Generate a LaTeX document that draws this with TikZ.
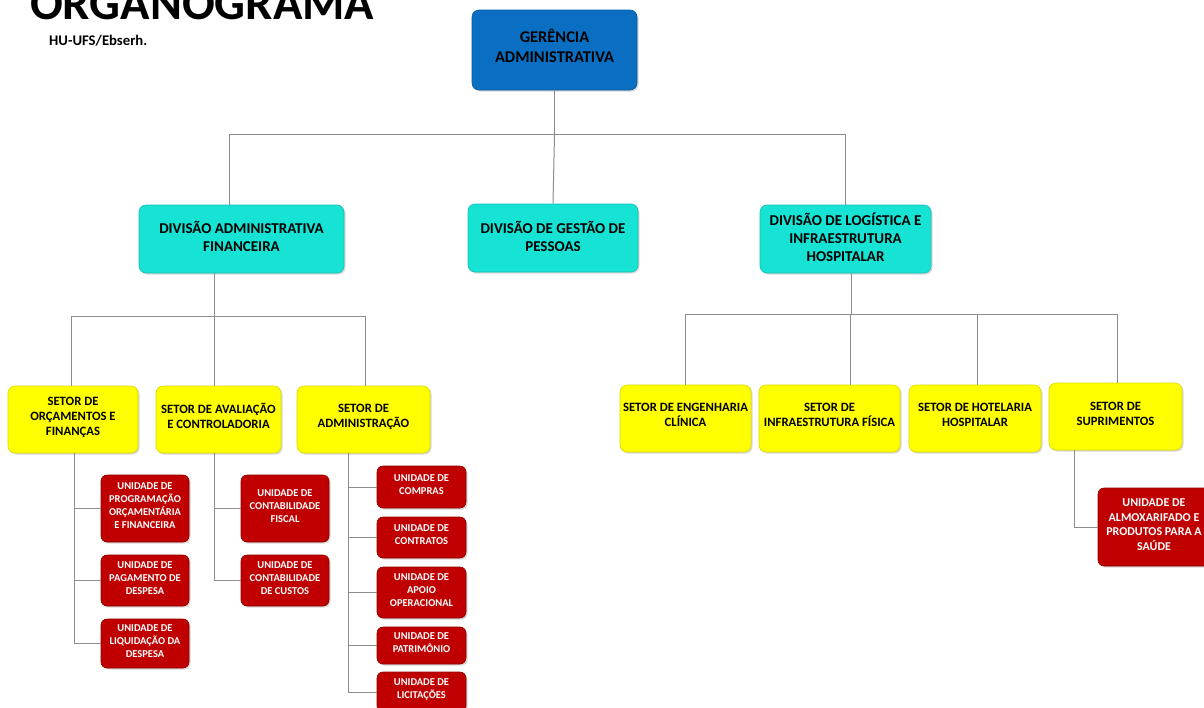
\documentclass[tikz,border=0pt]{standalone}
\usepackage{fontspec}
\setmainfont{Carlito}
\usetikzlibrary{shadows}
\definecolor{gblue}{HTML}{0A6FC2}
\definecolor{dcyan}{HTML}{16E3D4}
\definecolor{syell}{HTML}{FFFF00}
\definecolor{ured}{HTML}{C00000}
\definecolor{lgray}{HTML}{8C8C8C}
\begin{document}
\begin{tikzpicture}[x=1pt,y=-1pt,
  base/.style={rounded corners=7pt, align=center, inner sep=0pt,
    drop shadow={opacity=0.3, shadow xshift=1.5pt, shadow yshift=-1.5pt}},
  gbox/.style={base, fill=gblue, draw=gblue!80!black, line width=0.6pt, text=black,
    font=\bfseries\fontsize{16.4}{20}\selectfont},
  dbox/.style={base, fill=dcyan, draw=dcyan!85!black, line width=0.6pt, text=black,
    font=\bfseries\fontsize{15}{18}\selectfont},
  sbox/.style={base, fill=syell, draw=syell!85!black, line width=0.6pt, text=black,
    font=\bfseries\fontsize{12.7}{15}\selectfont},
  ubox/.style={base, rounded corners=6pt, fill=ured, draw=ured!75!black, line width=0.6pt, text=white,
    font=\bfseries\fontsize{10.5}{13}\selectfont},
  conn/.style={draw=lgray, line width=1pt}]
\useasboundingbox (0,0) rectangle (1204,707);
\clip (0,0) rectangle (1204,707);
\fill[white] (0,0) rectangle (1204,707);

% titles
\node[anchor=base west, inner sep=0pt, font=\bfseries\fontsize{48.5}{49}\selectfont] (title) at (30,19) {ORGANOGRAMA};
\node[anchor=base west, inner sep=0pt, font=\bfseries\fontsize{14.7}{15}\selectfont] (sub) at (49,45) {HU-UFS/Ebserh.};

% top
\node[gbox, minimum width=165pt, minimum height=80pt] (ger) at (554.5,50) {GERÊNCIA\\ADMINISTRATIVA\\[-12pt]};

% divisions
\node[dbox, minimum width=205pt, minimum height=68pt] (daf) at (241.5,239) {DIVISÃO ADMINISTRATIVA\\FINANCEIRA\\[-12pt]};
\node[dbox, minimum width=170pt, minimum height=68pt] (dgp) at (553,238) {DIVISÃO DE GESTÃO DE\\PESSOAS\\[-14pt]};
\node[dbox, minimum width=171pt, minimum height=68pt] (dlog) at (845.5,239) {DIVISÃO DE LOGÍSTICA E\\INFRAESTRUTURA\\HOSPITALAR\\[-14pt]};

% setores
\node[sbox, minimum width=130pt, minimum height=67pt] (sorc) at (73,419.5) {SETOR DE\\ORÇAMENTOS E\\FINANÇAS\\[-9pt]};
\node[sbox, minimum width=125pt, minimum height=67pt] (saval) at (218.5,419.5) {SETOR DE AVALIAÇÃO\\E CONTROLADORIA\\[-7pt]};
\node[sbox, minimum width=133pt, minimum height=67pt] (sadm) at (363.5,419.5) {SETOR DE\\ADMINISTRAÇÃO\\[-7pt]};
\node[sbox, minimum width=131pt, minimum height=67pt] (seng) at (685.5,418.5) {SETOR DE ENGENHARIA\\CLÍNICA\\[-7pt]};
\node[sbox, minimum width=141pt, minimum height=67pt] (sinf) at (829.5,418.5) {SETOR DE\\INFRAESTRUTURA FÍSICA\\[-7pt]};
\node[sbox, minimum width=132pt, minimum height=67pt] (shot) at (975,418.5) {SETOR DE HOTELARIA\\HOSPITALAR\\[-7pt]};
\node[sbox, minimum width=133pt, minimum height=67pt] (ssup) at (1115.5,416.5) {SETOR DE\\SUPRIMENTOS\\[-9pt]};

% unidades
\node[ubox, minimum width=88pt, minimum height=67pt] (uprog) at (145,508.5) {UNIDADE DE\\PROGRAMAÇÃO\\ORÇAMENTÁRIA\\E FINANCEIRA\\[-7pt]};
\node[ubox, minimum width=88pt, minimum height=51pt] (upag) at (145,580.5) {UNIDADE DE\\PAGAMENTO DE\\DESPESA\\[-8pt]};
\node[ubox, minimum width=88pt, minimum height=49pt] (uliq) at (145,643.5) {UNIDADE DE\\LIQUIDAÇÃO DA\\DESPESA\\[-8pt]};
\node[ubox, minimum width=88pt, minimum height=67pt] (ufis) at (285,508.5) {UNIDADE DE\\CONTABILIDADE\\FISCAL\\[-8pt]};
\node[ubox, minimum width=88pt, minimum height=51pt] (ucus) at (285,580.5) {UNIDADE DE\\CONTABILIDADE\\DE CUSTOS\\[-8pt]};
\node[ubox, minimum width=89pt, minimum height=42pt] (ucomp) at (421.5,487) {UNIDADE DE\\COMPRAS\\[-8pt]};
\node[ubox, minimum width=89pt, minimum height=41pt] (ucont) at (421.5,537.5) {UNIDADE DE\\CONTRATOS\\[-8pt]};
\node[ubox, minimum width=89pt, minimum height=51pt] (uapo) at (421.5,592.5) {UNIDADE DE\\APOIO\\OPERACIONAL\\[-8pt]};
\node[ubox, minimum width=89pt, minimum height=37pt] (upat) at (421.5,645.5) {UNIDADE DE\\PATRIMÔNIO\\[-7pt]};
\node[ubox, minimum width=89pt, minimum height=40pt] (ulic) at (421.5,692) {UNIDADE DE\\LICITAÇÕES\\[-7pt]};
\node[ubox, minimum width=112pt, minimum height=78pt, font=\bfseries\fontsize{12}{14.5}\selectfont] (ualm) at (1154,527) {UNIDADE DE\\ALMOXARIFADO E\\PRODUTOS PARA A\\SAÚDE\\[-9.5pt]};

% connectors level 1
\draw[conn] (ger.south) -- ++(0,44) coordinate (b1);
\draw[conn] (b1) -| ([xshift=-12.5pt]daf.north);
\draw[conn] (b1) -| (dlog.north);
\draw[conn] (b1) -- (dgp.north);

% level 2 left
\draw[conn] ([xshift=-27.5pt]daf.south) -- ++(0,43) coordinate (b2);
\draw[conn] (b2) -| ([xshift=-2pt]sorc.north);
\draw[conn] (b2) -| ([xshift=-4.5pt]saval.north);
\draw[conn] (b2) -| ([xshift=1.5pt]sadm.north);

% level 2 right
\draw[conn] ([xshift=5.5pt]dlog.south) -- ++(0,41) coordinate (b3);
\draw[conn] (b3) -| (seng.north);
\draw[conn] (b3) -| ([xshift=20.5pt]sinf.north);
\draw[conn] (b3) -| ([xshift=2pt]shot.north);
\draw[conn] (b3) -| ([xshift=1.5pt]ssup.north);

% level 3
\draw[conn] ([xshift=1pt]sorc.south) |- (uprog.west);
\draw[conn] ([xshift=1pt]sorc.south) |- (upag.west);
\draw[conn] ([xshift=1pt]sorc.south) |- (uliq.west);
\draw[conn] ([xshift=-4.5pt]saval.south) |- (ufis.west);
\draw[conn] ([xshift=-4.5pt]saval.south) |- (ucus.west);
\draw[conn] ([xshift=-15.5pt]sadm.south) |- (ucomp.west);
\draw[conn] ([xshift=-15.5pt]sadm.south) |- (ucont.west);
\draw[conn] ([xshift=-15.5pt]sadm.south) |- (uapo.west);
\draw[conn] ([xshift=-15.5pt]sadm.south) |- (upat.west);
\draw[conn] ([xshift=-15.5pt]sadm.south) |- (ulic.west);
\draw[conn] ([xshift=-41.5pt]ssup.south) |- (ualm.west);
\end{tikzpicture}
\end{document}
